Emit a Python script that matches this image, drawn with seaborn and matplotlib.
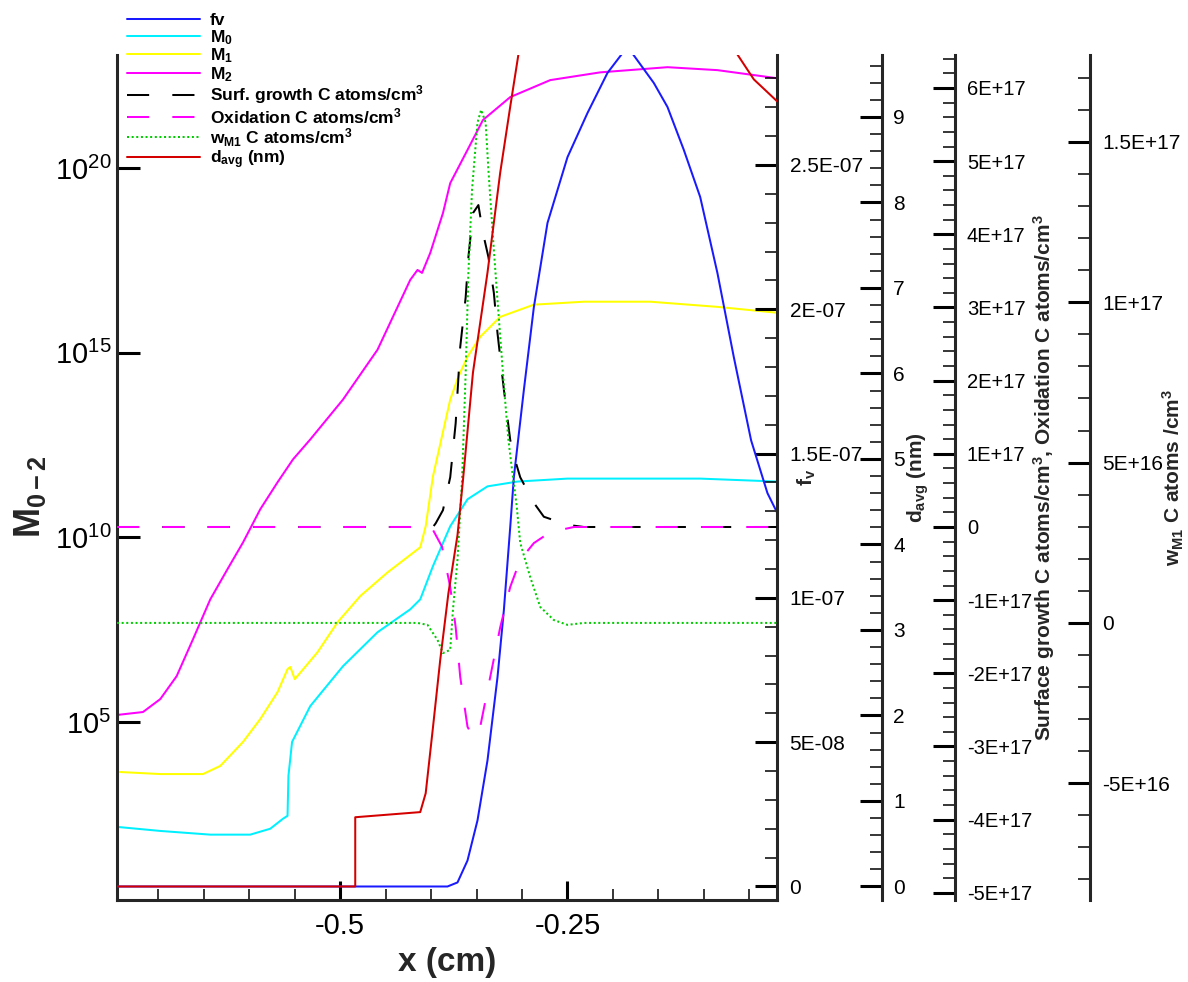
import numpy as np
import matplotlib
matplotlib.use("Agg")
import matplotlib.pyplot as plt
from matplotlib.ticker import FixedLocator, MultipleLocator, FuncFormatter, NullLocator
import seaborn as sns

# ---------------- data ----------------
# moments M0, M1, M2 (stored as log10 of the value)
m2_x = [-0.7456, -0.717, -0.698, -0.680, -0.662, -0.643, -0.624, -0.607, -0.588, -0.569,
        -0.552, -0.533, -0.497, -0.459, -0.423, -0.415, -0.410, -0.401, -0.387, -0.379,
        -0.360, -0.343, -0.313, -0.269, -0.214, -0.140, -0.085, -0.019]
m2_log = [5.19, 5.27, 5.62, 6.24, 7.24, 8.32, 9.14, 9.86, 10.76, 11.49,
          12.11, 12.65, 13.73, 15.08, 16.97, 17.24, 17.16, 17.70, 18.78, 19.59,
          20.49, 21.30, 21.92, 22.38, 22.59, 22.73, 22.65, 22.43]

m1_x = [-0.7456, -0.698, -0.651, -0.632, -0.607, -0.588, -0.569, -0.558, -0.555, -0.550,
        -0.525, -0.503, -0.478, -0.448, -0.412, -0.406, -0.398, -0.379, -0.370, -0.360,
        -0.346, -0.324, -0.287, -0.232, -0.159, -0.085, -0.019]
m1_log = [3.65, 3.59, 3.59, 3.81, 4.46, 5.08, 5.81, 6.43, 6.49, 6.16,
          6.89, 7.70, 8.41, 9.05, 9.73, 10.30, 11.65, 13.73, 14.35, 14.89,
          15.43, 15.97, 16.30, 16.38, 16.38, 16.24, 16.08]

m0_x = [-0.7456, -0.698, -0.643, -0.599, -0.577, -0.563, -0.558, -0.557, -0.553, -0.533,
        -0.497, -0.459, -0.423, -0.412, -0.398, -0.379, -0.360, -0.338, -0.305, -0.250,
        -0.104, -0.019]
m0_log = [2.16, 2.05, 1.95, 1.95, 2.11, 2.38, 2.46, 3.54, 4.46, 5.43,
          6.51, 7.43, 8.05, 8.32, 9.22, 10.30, 11.03, 11.38, 11.51, 11.59,
          11.59, 11.51]

# soot volume fraction fv (units of 1E-08)
fv_x = [-0.7456, -0.382, -0.371, -0.360, -0.349, -0.338, -0.327, -0.320, -0.313, -0.309,
        -0.298, -0.287, -0.272, -0.250, -0.228, -0.206, -0.184, -0.155, -0.140, -0.122,
        -0.104, -0.085, -0.067, -0.048, -0.030, -0.019]
fv_e8 = [0.0, 0.0, 0.14, 0.90, 2.29, 4.37, 7.25, 9.57, 12.45, 14.18,
         17.20, 20.07, 22.99, 25.27, 26.80, 28.19, 29.10, 27.84, 27.01, 25.52,
         23.89, 21.25, 18.34, 15.46, 13.63, 12.93]

# surface growth and oxidation rates (units of 1E+17 C atoms/cm3)
sg_x = [-0.7456, -0.398, -0.395, -0.387, -0.379, -0.373, -0.368, -0.362, -0.359, -0.354,
        -0.348, -0.343, -0.337, -0.331, -0.327, -0.320, -0.313, -0.307, -0.302, -0.287,
        -0.276, -0.250, -0.232, -0.019]
sg_e17 = [0.0, 0.0, 0.05, 0.23, 0.68, 1.42, 2.46, 3.14, 3.69, 4.29,
          4.40, 4.02, 3.69, 3.20, 2.65, 1.88, 1.19, 0.89, 0.68, 0.33,
          0.14, 0.03, 0.0, 0.0]

ox_x = [-0.7456, -0.405, -0.398, -0.388, -0.379, -0.373, -0.368, -0.360, -0.354, -0.346,
        -0.335, -0.324, -0.313, -0.302, -0.287, -0.269, -0.243, -0.019]
ox_e17 = [0.0, 0.0, -0.04, -0.27, -0.82, -1.37, -2.05, -2.73, -2.87, -2.73,
          -2.05, -1.37, -0.82, -0.45, -0.22, -0.07, 0.0, 0.0]

# w_M1 source term (units of 1E+16 C atoms/cm3)
w_x = [-0.7456, -0.415, -0.404, -0.393, -0.387, -0.379, -0.376, -0.371, -0.366, -0.362,
       -0.359, -0.355, -0.349, -0.345, -0.340, -0.337, -0.331, -0.327, -0.320, -0.315,
       -0.311, -0.306, -0.302, -0.291, -0.280, -0.265, -0.250, -0.232, -0.019]
w_e16 = [0.0, 0.0, -0.06, -0.53, -0.94, -0.84, 0.41, 1.97, 4.46, 7.80,
         10.92, 13.51, 15.60, 16.00, 15.60, 14.13, 11.63, 10.07, 7.42, 5.71,
         4.77, 3.68, 2.50, 1.43, 0.50, 0.09, -0.06, 0.0, 0.0]

# average particle diameter (nm)
d_x = [-0.7456, -0.4835, -0.4835, -0.412, -0.406, -0.398, -0.390, -0.381, -0.371, -0.365,
       -0.354, -0.338, -0.324, -0.313, -0.304, -0.280, -0.220, -0.160, -0.110, -0.080,
       -0.063, -0.045, -0.019]
d_nm = [0.0, 0.0, 0.81, 0.87, 1.09, 1.86, 2.65, 3.43, 4.11, 4.75,
        6.01, 7.18, 8.35, 9.12, 9.73, 11.3, 12.8, 12.6, 11.4, 10.3,
        9.73, 9.44, 9.18]

legend_labels = [
    "fv",
    r"$\mathbf{M_0}$",
    r"$\mathbf{M_1}$",
    r"$\mathbf{M_2}$",
    r"Surf. growth C atoms/cm$^{\mathbf{3}}$",
    r"Oxidation C atoms/cm$^{\mathbf{3}}$",
    r"$\mathbf{w_{M1}}$ C atoms/cm$^{\mathbf{3}}$",
    r"$\mathbf{d_{avg}}$ (nm)",
]

# ---------------- style ----------------
sns.set_theme(style="ticks")
plt.rcParams["font.family"] = ["Liberation Sans", "DejaVu Sans"]
plt.rcParams.update({
    "mathtext.fontset": "custom",
    "mathtext.rm": "Liberation Sans",
    "mathtext.it": "Liberation Sans:italic",
    "mathtext.bf": "Liberation Sans:bold",
    "mathtext.sf": "Liberation Sans",
    "axes.linewidth": 2.2,
    "text.color": "black",
    "xtick.color": "black",
    "ytick.color": "black",
})

W, H = 1188, 982
L, R, T, B = 117, 777, 55, 900
fig = plt.figure(figsize=(W / 100, H / 100), dpi=100)
ax = fig.add_axes([L / W, (H - B) / H, (R - L) / W, (B - T) / H])
ax.set_yscale("log")

ax_fv = ax.twinx()
ax_s = ax.twinx()
ax_w = ax.twinx()
ax_d = ax.twinx()

LW = 1.45
line_kw = dict(sort=False, estimator=None, legend=False, linewidth=LW)

sns.lineplot(x=m0_x, y=10 ** np.array(m0_log), ax=ax, color="#00f0ff", **line_kw)
sns.lineplot(x=m1_x, y=10 ** np.array(m1_log), ax=ax, color="#ffff00", **line_kw)
sns.lineplot(x=m2_x, y=10 ** np.array(m2_log), ax=ax, color="#ff00ff", **line_kw)
h_m0, h_m1, h_m2 = ax.lines[-3:]

sns.lineplot(x=fv_x, y=np.array(fv_e8) * 1e-8, ax=ax_fv, color="#1a1aff", **line_kw)
h_fv = ax_fv.lines[-1]

sns.lineplot(x=sg_x, y=np.array(sg_e17) * 1e17, ax=ax_s, color="black",
             linestyle=(0, (11, 11.5)), **line_kw)
sns.lineplot(x=ox_x, y=np.array(ox_e17) * 1e17, ax=ax_s, color="#ff00ff",
             linestyle=(0, (11, 11.5)), **line_kw)
h_sg, h_ox = ax_s.lines[-2:]

sns.lineplot(x=w_x, y=np.array(w_e16) * 1e16, ax=ax_w, color="#00cc00",
             linestyle=(0, (1, 1.3)), **line_kw)
h_w = ax_w.lines[-1]

sns.lineplot(x=d_x, y=d_nm, ax=ax_d, color="#d40000", **line_kw)
h_d = ax_d.lines[-1]

# ---------------- main axes ----------------
ax.set_xlim(-0.7456, -0.0195)
ax.set_ylim(10 ** 0.18, 10 ** 23.06)
ax.spines["top"].set_visible(False)
ax.spines["right"].set_visible(False)
ax.yaxis.set_major_locator(FixedLocator([1e5, 1e10, 1e15, 1e20]))
ax.yaxis.set_minor_locator(NullLocator())
ax.yaxis.set_major_formatter(
    FuncFormatter(lambda v, p: r"$\mathrm{10^{%d}}$" % round(np.log10(v))))
ax.tick_params(axis="y", which="major", direction="in", length=16.5, width=2.2,
               labelsize=21, pad=4, left=True, right=False)
ax.xaxis.set_major_locator(MultipleLocator(0.25))
ax.xaxis.set_minor_locator(MultipleLocator(0.05))
ax.xaxis.set_major_formatter(FuncFormatter(lambda v, p: f"{v:g}"))
ax.tick_params(axis="x", which="major", direction="in", length=14, width=2.2,
               labelsize=21, pad=9, top=False)
ax.tick_params(axis="x", which="minor", direction="in", length=8, width=1.1, top=False)

ax.set_xlabel("x (cm)", fontsize=24, fontweight="bold")
ax.xaxis.set_label_coords(0.5, -(962 - B) / (B - T))
ax.xaxis.label.set_va("center")
ax.set_ylabel(r"$\mathbf{M_{0-2}}$", fontsize=26, rotation=90)
ax.yaxis.set_label_coords((30 - L) / (R - L), (B - 497) / (B - T))
ax.yaxis.label.set_va("center")
ax.yaxis.label.set_ha("center")


def sci_fmt(step):
    def f(v, p):
        if abs(v) < 1e-3 * step:
            return "0"
        mant, exp = f"{v:.1E}".split("E")
        if mant.endswith(".0"):
            mant = mant[:-2]
        return f"{mant}E{exp}"
    return FuncFormatter(f)


def style_twin(tw, pos, lim, major, minor, fmt, label, label_x, pad, tsize):
    for s in ("left", "top", "bottom"):
        tw.spines[s].set_visible(False)
    tw.spines["right"].set_position(("axes", pos))
    tw.spines["right"].set_linewidth(2.2)
    tw.set_ylim(*lim)
    tw.yaxis.set_major_locator(MultipleLocator(major))
    tw.yaxis.set_minor_locator(MultipleLocator(minor))
    tw.yaxis.set_major_formatter(fmt)
    tw.tick_params(axis="y", which="major", direction="in", length=16, width=2.2,
                   labelsize=tsize, pad=pad, right=True, left=False)
    tw.tick_params(axis="y", which="minor", direction="in", length=8.5, width=1.1,
                   right=True, left=False)
    tw.set_ylabel(label, fontsize=15, fontweight="bold", rotation=90)
    tw.yaxis.set_label_coords((label_x - L) / (R - L), 0.5)
    tw.yaxis.label.set_va("center")
    tw.yaxis.label.set_ha("center")
    tw.yaxis.label.set_rotation_mode("anchor")


style_twin(ax_fv, 1.0, (-0.468e-8, 28.81e-8), 5e-8, 1e-8, sci_fmt(5e-8),
           r"$\mathbf{f_v}$", 807, 9, 15)
style_twin(ax_d, (882 - L) / (R - L), (-0.158, 9.725), 1, 0.2,
           FuncFormatter(lambda v, p: f"{v:.0f}"),
           r"$\mathbf{d_{avg}}$ (nm)", 918, 8, 15)
style_twin(ax_s, (955 - L) / (R - L), (-5.098e17, 6.451e17), 1e17, 2e16, sci_fmt(1e17),
           r"Surface growth C atoms/cm$^{\mathbf{3}}$, Oxidation C atoms/cm$^{\mathbf{3}}$",
           1044, 8.5, 14.5)
style_twin(ax_w, (1090 - L) / (R - L), (-8.64e16, 17.71e16), 5e16, 1e16, sci_fmt(5e16),
           r"$\mathbf{w_{M1}}$ C atoms /cm$^{\mathbf{3}}$", 1173, 9, 15)

# ---------------- legend ----------------
handles = [h_fv, h_m0, h_m1, h_m2, h_sg, h_ox, h_w, h_d]
fs = 12.5
fig.legend(handles, legend_labels, loc="upper left",
           bbox_to_anchor=(127 / W, 1 - 13 / H), frameon=False,
           prop={"size": fs, "weight": "bold"},
           handlelength=73 / (fs * 100 / 72), handletextpad=0.55,
           labelspacing=-0.01, borderpad=0, borderaxespad=0)

fig.savefig("out.png", dpi=100)
